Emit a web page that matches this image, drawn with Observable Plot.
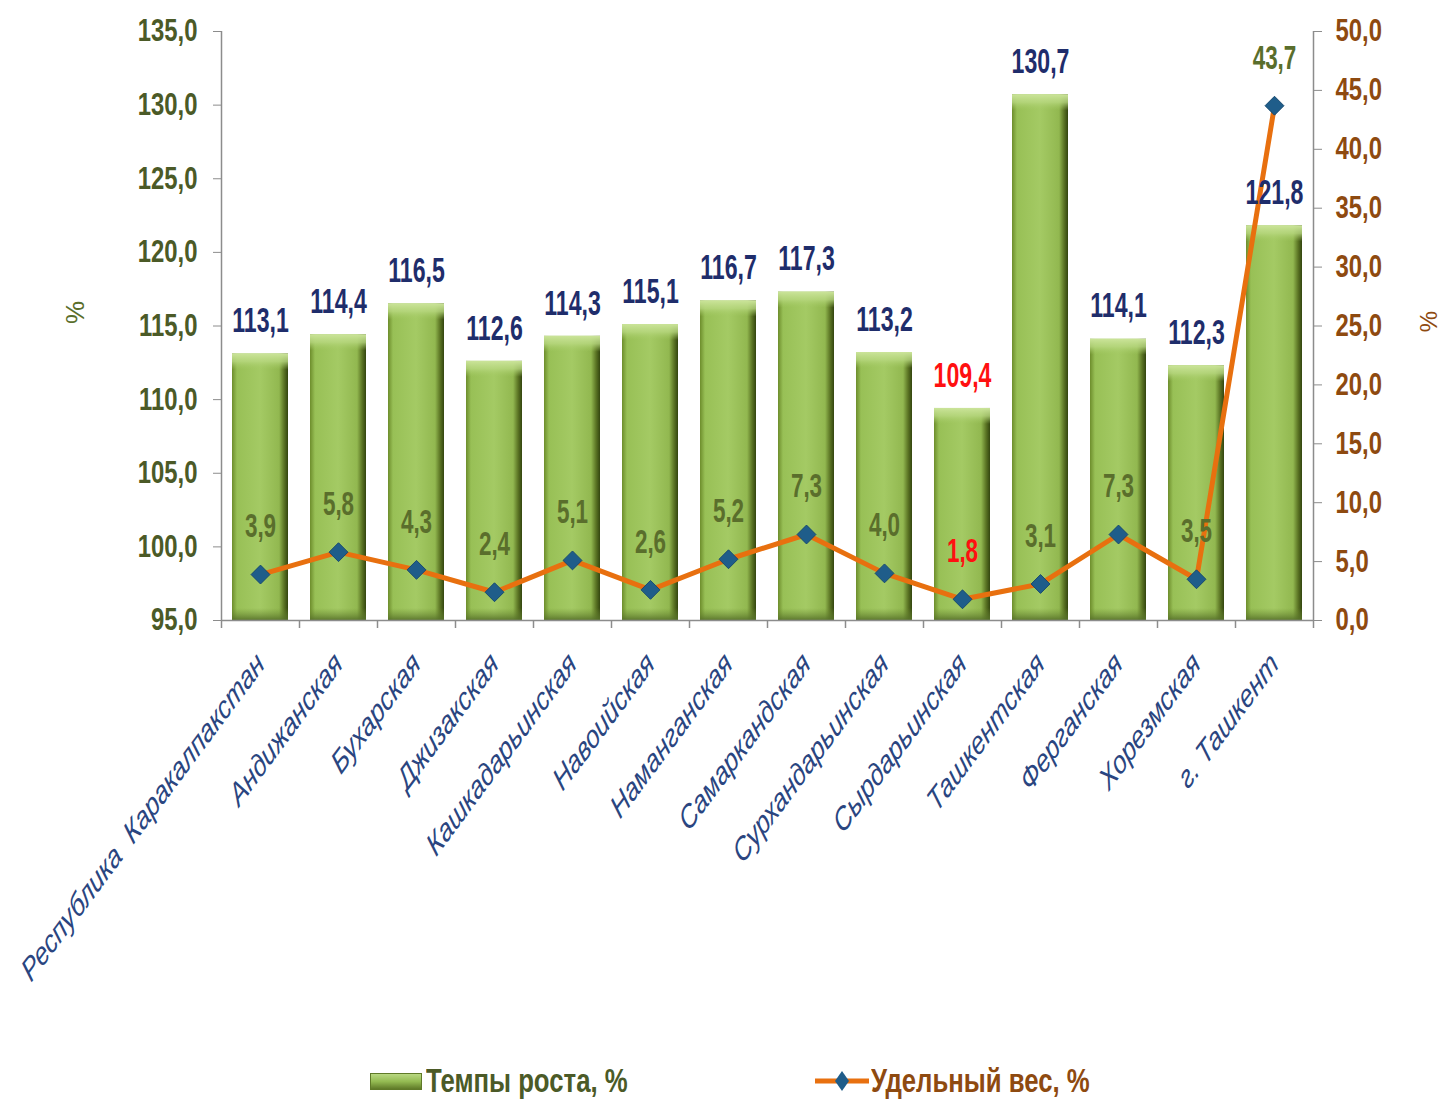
<!DOCTYPE html>
<html>
<head>
<meta charset="utf-8">
<script src="https://cdn.jsdelivr.net/npm/d3@7"></script>
<script src="https://cdn.jsdelivr.net/npm/@observablehq/plot@0.6"></script>
<style>
  body { margin: 0; background: #fff; }
  #chart { position: relative; width: 1448px; height: 1099px; overflow: hidden; }
  #chart svg text { font-family: "Liberation Sans", Arial, sans-serif; }
  #chart svg g[aria-label="x-axis tick label"] text { font-style: italic; }
  .legend { position: absolute; top: 1062px; height: 38px; display: flex; align-items: center; font-family: "Liberation Sans", Arial, sans-serif; font-size: 33px; font-weight: bold; white-space: nowrap; }
  .legend .lab { display: inline-block; transform: scaleX(0.78); transform-origin: left center; }
</style>
</head>
<body>
<div id="chart"></div>
<script>
// ---- data ----
const regions = ["Республика  Каракалпакстан", "Андижанская", "Бухарская", "Джизакская", "Кашкадарьинская", "Навоийская", "Наманганская", "Самаркандская", "Сурхандарьинская", "Сырдарьинская", "Ташкентская", "Ферганская", "Хорезмская", "г. Ташкент"];
const growth = [113.1, 114.4, 116.5, 112.6, 114.3, 115.1, 116.7, 117.3, 113.2, 109.4, 130.7, 114.1, 112.3, 121.8];
const share  = [3.9, 5.8, 4.3, 2.4, 5.1, 2.6, 5.2, 7.3, 4.0, 1.8, 3.1, 7.3, 3.5, 43.7];
const leftTicks  = [95, 100, 105, 110, 115, 120, 125, 130, 135];
const rightTicks = [0, 5, 10, 15, 20, 25, 30, 35, 40, 45, 50];
const seriesNames = ["Темпы роста, %", "Удельный вес, %"];
const axisLabel = "%";

// ---- layout ----
const W = 1448, H = 1040, ML = 221, MR = 135, MT = 31, MB = 420;
const step = (W - ML - MR) / regions.length;
const L0 = leftTicks[0], L1 = leftTicks[leftTicks.length - 1];
const R0 = rightTicks[0], R1 = rightTicks[rightTicks.length - 1];
const toLeft = v => L0 + (v - R0) * (L1 - L0) / (R1 - R0);
const fromLeft = d => R0 + (d - L0) * (R1 - R0) / (L1 - L0);
const fmt = v => (Math.round(v * 10) / 10).toFixed(1).replace(".", ",");

const minG = d3.min(growth), minS = d3.min(share);
const data = regions.map((r, i) => ({region: r, growth: growth[i], share: share[i], shareY: toLeft(share[i])}));

const C = {
  axis: "#8c8c8c", leftTick: "#4b5a27", rightTick: "#8e4a10", navy: "#1f2d6b",
  olive: "#5a6e2c", red: "#ff1010", orange: "#e8700f", diamond: "#1f5d8a", cat: "#2a4580"
};

const defs = () => {
  const d = d3.create("svg:defs");
  const g = d.append("linearGradient").attr("id", "barGrad").attr("x1", 0).attr("x2", 1).attr("y1", 0).attr("y2", 0);
  [[0, "#6d8d2c"], [0.09, "#98c056"], [0.5, "#a4ca64"], [0.84, "#92b850"], [0.93, "#5b7424"], [1, "#33450f"]]
    .forEach(([o, c]) => g.append("stop").attr("offset", o).attr("stop-color", c));
  const t = d.append("linearGradient").attr("id", "topGrad").attr("x1", 0).attr("x2", 0).attr("y1", 0).attr("y2", 1);
  [[0, "#cbe49a", 1], [0.5, "#b8d880", 0.8], [1, "#a4ca64", 0]]
    .forEach(([o, c, a]) => t.append("stop").attr("offset", o).attr("stop-color", c).attr("stop-opacity", a));
  const b = d.append("linearGradient").attr("id", "botGrad").attr("x1", 0).attr("x2", 0).attr("y1", 0).attr("y2", 1);
  [[0, "#6f8e33", 0], [1, "#56702a", 0.9]]
    .forEach(([o, c, a]) => b.append("stop").attr("offset", o).attr("stop-color", c).attr("stop-opacity", a));
  return d.node();
};

const plot = Plot.plot({
  width: W, height: H,
  marginLeft: ML, marginRight: MR, marginTop: MT, marginBottom: MB,
  x: {domain: regions, paddingInner: 0.28, paddingOuter: 0.14},
  y: {domain: [L0, L1]},
  color: {type: "identity"},
  marks: [
    defs,
    Plot.barY(data, {x: "region", y1: L0, y2: "growth", fill: "url(#barGrad)"}),
    Plot.barY(data, {x: "region", y1: "growth", y2: "growth", insetBottom: -16, fill: "url(#topGrad)"}),
    Plot.barY(data, {x: "region", y1: L0, y2: L0, insetTop: -12, fill: "url(#botGrad)"}),
    Plot.ruleY([L0], {stroke: C.axis, strokeWidth: 1.5}),
    Plot.ruleX([regions[0]], {x: d => d, dx: -step / 2, y1: L0, y2: L1, stroke: C.axis, strokeWidth: 1.5}),
    Plot.ruleX([regions[regions.length - 1]], {x: d => d, dx: step / 2, y1: L0, y2: L1, stroke: C.axis, strokeWidth: 1.5}),
    Plot.ruleX(regions, {x: d => d, dx: -step / 2, y1: L0, y2: L0, insetBottom: -8, stroke: C.axis, strokeWidth: 1.5}),
    Plot.ruleX([regions[regions.length - 1]], {x: d => d, dx: step / 2, y1: L0, y2: L0, insetBottom: -8, stroke: C.axis, strokeWidth: 1.5}),
    Plot.axisY({anchor: "left", ticks: leftTicks, tickFormat: fmt, tickSize: 8, tickPadding: 16,
      fontSize: 31, fontWeight: "bold", stroke: C.axis, fill: C.leftTick, label: null}),
    Plot.axisY({anchor: "right", ticks: rightTicks.map(toLeft), tickFormat: d => fmt(fromLeft(d)), tickSize: 8, tickPadding: 14,
      fontSize: 31, fontWeight: "bold", stroke: C.axis, fill: C.rightTick, label: null}),
    Plot.axisX({anchor: "bottom", tickSize: 0, tickPadding: 38, tickRotate: -45, fontSize: 24, fill: C.cat, label: null}),
    Plot.text([axisLabel], {frameAnchor: "left", dx: -146, dy: -2, rotate: -90, fontSize: 26, fill: C.olive}),
    Plot.text([axisLabel], {frameAnchor: "right", dx: 116, dy: -15, rotate: -90, fontSize: 24, fill: C.rightTick}),
    Plot.line(data, {x: "region", y: "shareY", stroke: C.orange, strokeWidth: 5, strokeLinejoin: "round"}),
    Plot.dot(data, {x: "region", y: "shareY", symbol: "diamond2", r: 8.5, fill: C.diamond, stroke: "#174a70", strokeWidth: 1}),
    Plot.text(data, {x: "region", y: "growth", text: d => fmt(d.growth), dy: -33, fontSize: 35, fontWeight: "bold",
      fill: d => d.growth === minG ? C.red : C.navy}),
    Plot.text(data, {x: "region", y: "shareY", text: d => fmt(d.share), dy: -48, fontSize: 34, fontWeight: "bold",
      fill: d => d.share === minS ? C.red : C.olive})
  ]
});

// The reference is a vertically stretched raster: compress text horizontally / stretch rotated labels vertically.
function squeeze(t, sx, sy) {
  let tr = t.getAttribute("transform") || "";
  const s = ` scale(${sx},${sy}) `;
  if (/rotate\(/.test(tr)) tr = tr.replace(/rotate\(/, s + "rotate(");
  else tr += s;
  t.setAttribute("transform", tr);
}
d3.select(plot).selectAll('g[aria-label="x-axis tick label"] text').each(function() { squeeze(this, 1, 1.35); });
d3.select(plot).selectAll('g[aria-label="y-axis tick label"] text').each(function() { squeeze(this, 0.77, 1); });
d3.select(plot).selectAll('g[aria-label="text"] text').each(function() {
  if (this.textContent === axisLabel) return;
  squeeze(this, 0.66, 1);
});

const chart = document.getElementById("chart");
chart.appendChild(plot);

// legend
const lg1 = document.createElement("div");
lg1.className = "legend";
lg1.style.left = "370px";
lg1.style.color = C.leftTick;
lg1.innerHTML = `<span style="display:inline-block;width:52px;height:17px;margin-right:4px;background:linear-gradient(#b9d882,#94bb52 50%,#5f7a28);border:1px solid #5f7a28;box-sizing:border-box"></span><span class="lab">${seriesNames[0]}</span>`;
chart.appendChild(lg1);

const lg2 = document.createElement("div");
lg2.className = "legend";
lg2.style.left = "815px";
lg2.style.color = C.rightTick;
lg2.innerHTML = `<svg width="54" height="24" style="margin-right:2px"><line x1="0" y1="12" x2="54" y2="12" stroke="${C.orange}" stroke-width="5"/><path d="M27,2 L34,12 L27,22 L20,12 Z" fill="${C.diamond}"/></svg><span class="lab">${seriesNames[1]}</span>`;
chart.appendChild(lg2);
</script>
</body>
</html>
